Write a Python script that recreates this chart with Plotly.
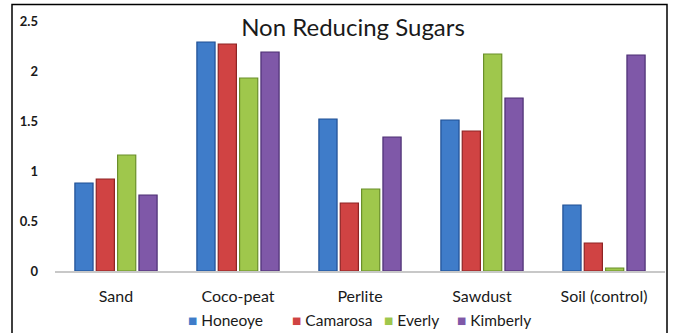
import plotly.graph_objects as go

substrates = ["Sand", "Coco-peat", "Perlite", "Sawdust", "Soil (control)"]
cultivars = ["Honeoye", "Camarosa", "Everly", "Kimberly"]

honeoye = [0.88, 2.29, 1.52, 1.51, 0.66]
camarosa = [0.92, 2.27, 0.68, 1.40, 0.28]
everly = [1.16, 1.93, 0.82, 2.17, 0.03]
kimberly = [0.76, 2.19, 1.34, 1.73, 2.16]

series = [honeoye, camarosa, everly, kimberly]
fills = ["#3f7cc9", "#d04343", "#9fc74c", "#7f58a8"]
edges = ["#1f4f94", "#8e2424", "#6a8f2a", "#4c2f73"]

FONT = "Lato, 'Open Sans', sans-serif"

fig = go.Figure()
for name, vals, fc, ec in zip(cultivars, series, fills, edges):
    fig.add_trace(go.Bar(
        x=substrates, y=vals, name=name, showlegend=False,
        marker=dict(color=fc, line=dict(color=ec, width=1.2)),
    ))

fig.update_layout(
    width=673, height=333,
    margin=dict(l=55, r=8, t=21, b=62, autoexpand=False),
    paper_bgcolor="white", plot_bgcolor="white",
    barmode="group", bargap=0.30, bargroupgap=0.15,
    font=dict(family=FONT, size=13, color="#1a1a1a"),
    title=dict(text="Non Reducing Sugars", x=353 / 673, xanchor="center",
               y=1 - 28 / 333, yanchor="middle", xref="container", yref="container",
               font=dict(family=FONT, size=24, color="#1a1a1a")),
)

fig.update_xaxes(showline=True, linecolor="#c8c8c8", linewidth=1.5,
                 showgrid=False, ticks="", ticklabelstandoff=10,
                 tickfont=dict(family=FONT, size=16))
fig.update_yaxes(range=[0, 2.5], dtick=0.5, showgrid=False, zeroline=False,
                 showline=False, ticks="", ticklabelstandoff=16,
                 tickformat="~g",
                 tickfont=dict(family=FONT, size=13, weight="bold"))

# compact legend row under the category labels
legend_x = [186, 290, 382, 455]
for name, fc, ec, lx in zip(cultivars, fills, edges, legend_x):
    fig.add_annotation(
        xref="paper", yref="paper",
        x=(lx - 55) / 610, y=(271 - 320) / 249.5,
        xanchor="left", yanchor="middle", showarrow=False,
        text=f"<span style='color:{fc}'>■</span> {name}",
        font=dict(family=FONT, size=15.5, color="#1a1a1a"),
    )

# outer chart frame
fig.add_shape(type="rect", xref="paper", yref="paper",
              x0=(12 - 55) / 610, x1=(667 - 55) / 610,
              y0=(271 - 345) / 249.5, y1=(271 - 5) / 249.5,
              line=dict(color="black", width=1.5), layer="below")

fig.write_html("out.html")
